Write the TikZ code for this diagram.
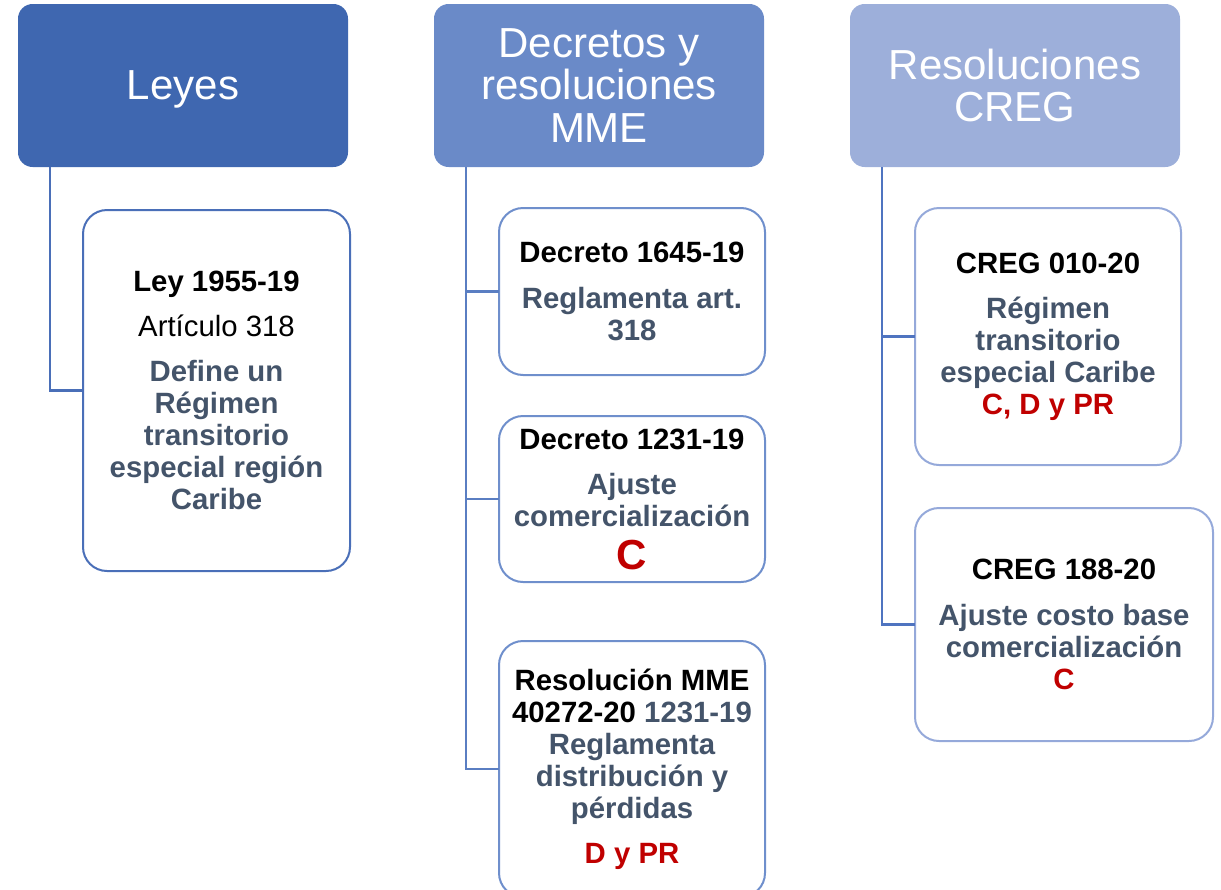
\documentclass[tikz,border=0pt]{standalone}
\usepackage{fontspec}
\setmainfont{Liberation Sans}
\usetikzlibrary{calc}
\definecolor{hA}{HTML}{3F67B0}
\definecolor{hB}{HTML}{6A8AC8}
\definecolor{hC}{HTML}{9DAFDA}
\definecolor{bA}{HTML}{4A6FB8}
\definecolor{bB}{HTML}{6F8FCC}
\definecolor{bC}{HTML}{95A9DA}
\definecolor{lA}{HTML}{4A6FB8}
\definecolor{lB}{HTML}{5A7EC2}
\definecolor{lC}{HTML}{4F74C0}
\definecolor{gtxt}{HTML}{44546A}
\definecolor{rtxt}{HTML}{C00000}
\tikzset{
  header/.style={rounded corners=11pt, inner sep=0pt, outer sep=0pt,
    minimum width=247.5pt, minimum height=122.25pt, text=white, align=center,
    font=\fontsize{31.5}{32}\selectfont},
  child/.style={draw, line width=1.5pt, fill=white, rounded corners=18pt,
    inner sep=0pt, outer sep=0pt, align=center, text=gtxt,
    font=\fontsize{22}{24}\selectfont\bfseries},
  conn/.style={line width=1.6pt},
}
\begin{document}
\begin{tikzpicture}[x=0.75pt,y=-0.75pt]
\useasboundingbox (0,0) rectangle (1221,889);
% headers
\node[header, fill=hA, text depth=0pt] (hA) at (183,85.5) {Leyes};
\node[header, fill=hB] (hB) at (599,85.5) {Decretos y\\resoluciones\\MME};
\node[header, fill=hC] (hC) at (1015,85.5) {Resoluciones\\CREG};
% column 1
\node[child, draw=bA, minimum width=200.25pt, minimum height=270.75pt] (ley) at (216.5,390.5)
  {\textcolor{black}{Ley 1955-19}\\[10pt]
   \textcolor{black}{\mdseries Artículo 318}\\[10pt]
   Define un\\Régimen\\transitorio\\especial región\\Caribe};
% column 2
\node[child, draw=bB, minimum width=199.5pt, minimum height=125.25pt] (d1645) at (632,291.5)
  {\textcolor{black}{Decreto 1645-19}\\[10pt]
   Reglamenta art.\\318};
\node[child, draw=bB, minimum width=199.5pt, minimum height=124.5pt] (d1231) at (632,499)
  {\textcolor{black}{Decreto 1231-19}\\[10pt]
   Ajuste\\comercialización\\[8pt]
   \textcolor{rtxt}{\fontsize{31.5}{32}\selectfont C}};
\node[child, draw=bB, minimum width=199.5pt, minimum height=192pt] (rmme) at (632,769)
  {\textcolor{black}{Resolución MME}\\
   \textcolor{black}{40272-20} 1231-19\\
   Reglamenta\\distribución y\\pérdidas\\[10pt]
   \textcolor{rtxt}{D y PR}};
% column 3
\node[child, draw=bC, minimum width=199.5pt, minimum height=192.75pt] (c010) at (1048,336.5)
  {\textcolor{black}{CREG 010-20}\\[10pt]
   Régimen\\transitorio\\especial Caribe\\
   \textcolor{rtxt}{C, D y PR}};
\node[child, draw=bC, minimum width=223.5pt, minimum height=174.75pt] (c188) at (1064,624.5)
  {\textcolor{black}{CREG 188-20}\\[10pt]
   Ajuste costo base\\comercialización\\
   \textcolor{rtxt}{C}};
% connectors
\draw[conn, lA] ($(hA.south west)+(32,0)$) |- (ley.west);
\draw[conn, lB] ($(hB.south west)+(32,0)$) |- (d1645.west);
\draw[conn, lB] ($(hB.south west)+(32,0)$) |- (d1231.west);
\draw[conn, lB] ($(hB.south west)+(32,0)$) |- (rmme.west);
\draw[conn, lC] ($(hC.south west)+(32,0)$) |- (c010.west);
\draw[conn, lC] ($(hC.south west)+(32,0)$) |- (c188.west);
\end{tikzpicture}
\end{document}
